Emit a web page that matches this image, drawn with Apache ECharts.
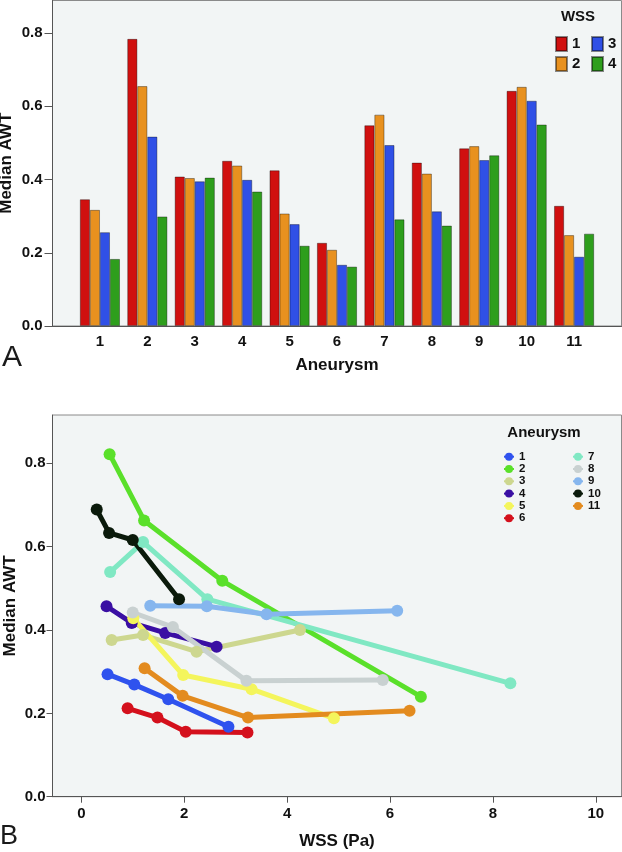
<!DOCTYPE html>
<html><head><meta charset="utf-8">
<script src="https://cdn.jsdelivr.net/npm/echarts@6/dist/echarts.min.js"></script>
<style>html,body{margin:0;padding:0;background:#fff}#c{width:622px;height:852px}</style>
</head><body><div id="c"></div>
<script>
// ---- Panel A data ----
const aneurysmCats = ['1','2','3','4','5','6','7','8','9','10','11'];
const wss1 = [0.346,0.784,0.408,0.451,0.425,0.227,0.548,0.446,0.485,0.642,0.328];
const wss2 = [0.317,0.655,0.404,0.438,0.307,0.208,0.577,0.416,0.491,0.653,0.248];
const wss3 = [0.256,0.517,0.395,0.399,0.278,0.167,0.494,0.313,0.453,0.615,0.189];
const wss4 = [0.183,0.299,0.405,0.367,0.219,0.162,0.291,0.274,0.466,0.550,0.252];
const awtTicks = [0,0.2,0.4,0.6,0.8];
// ---- Panel B data: [WSS (Pa), median AWT] ----
const an1  = [[0.51,0.294],[1.03,0.269],[1.69,0.234],[2.86,0.168]];
const an2  = [[0.55,0.822],[1.22,0.663],[2.74,0.518],[6.60,0.240]];
const an3  = [[0.59,0.376],[1.20,0.388],[2.24,0.348],[4.25,0.400]];
const an4  = [[0.49,0.457],[0.98,0.417],[1.63,0.393],[2.63,0.360]];
const an5  = [[1.01,0.428],[1.98,0.292],[3.31,0.258],[4.91,0.188]];
const an6  = [[0.90,0.212],[1.48,0.190],[2.03,0.156],[3.23,0.154]];
const an7  = [[0.56,0.539],[1.20,0.611],[2.45,0.474],[8.34,0.272]];
const an8  = [[1.00,0.442],[1.78,0.407],[3.21,0.278],[5.86,0.280]];
const an9  = [[1.34,0.458],[2.44,0.457],[3.60,0.438],[6.14,0.446]];
const an10 = [[0.30,0.689],[0.54,0.633],[1.00,0.616],[1.90,0.474]];
const an11 = [[1.23,0.308],[1.97,0.242],[3.24,0.190],[6.38,0.206]];
const wssTicks = [0,2,4,6,8,10];

const FONT = 'Liberation Sans, Arial, sans-serif';
const axisCol = '#555';
const barCats = [''].concat(aneurysmCats, ['']);
const pad = arr => ['-'].concat(arr, ['-']);

const barColors = ['#d0100f','#e8911f','#3050e6','#2e9e1c'];
const barSets = [wss1, wss2, wss3, wss4];
const lineSets = [an1,an2,an3,an4,an5,an6,an7,an8,an9,an10,an11];
const lineColors = ['#2f52ee','#5ae02a','#cdd78f','#3a0fa3','#f4f55c','#d4101c','#80e8c3','#c9d1d1','#86b6ee','#0b1a0b','#e38b1f'];

const series = [];
barSets.forEach((d,i)=>{
  series.push({
    type:'bar', name:'WSS '+(i+1), xAxisIndex:0, yAxisIndex:0,
    data: pad(d), barWidth:10, barGap:'0%',
    itemStyle:{color:barColors[i], borderColor:'rgba(0,0,0,0.45)', borderWidth:0.8},
    emphasis:{disabled:true}
  });
});
lineSets.forEach((d,i)=>{
  series.push({
    type:'line', name:'An '+(i+1), xAxisIndex:1, yAxisIndex:1,
    data:d, symbol:'circle', symbolSize:12, showSymbol:true,
    lineStyle:{width:5, color:lineColors[i]},
    itemStyle:{color:lineColors[i]},
    emphasis:{disabled:true}
  });
});

const labelStyle = {fontFamily:FONT, fontWeight:'bold', fontSize:15, color:'#111'};
const nameStyle = {fontFamily:FONT, fontWeight:'bold', fontSize:17, color:'#111'};
const strip = n => n.replace(/^(WSS|An) /,'');

const chart = echarts.init(document.getElementById('c'), null, {renderer:'canvas'});
chart.setOption({
  animation:false,
  grid:[
    {left:52.5, right:0.5, top:0.5, height:325.5, show:true, backgroundColor:'#f2f5f5', borderColor:'#8a8a8a', borderWidth:1, containLabel:false, outerBoundsMode:'none'},
    {left:52.5, right:0.5, top:415, bottom:55.3, show:true, backgroundColor:'#f2f5f5', borderColor:'#8a8a8a', borderWidth:1, containLabel:false, outerBoundsMode:'none'}
  ],
  xAxis:[
    {type:'category', gridIndex:0, data:barCats, boundaryGap:false,
     axisLine:{lineStyle:{color:axisCol}}, axisTick:{show:false},
     axisLabel:Object.assign({interval:0, margin:8}, labelStyle),
     splitLine:{show:false}, nameMoveOverlap:false,
     name:'Aneurysm', nameLocation:'middle', nameGap:31, nameTextStyle:nameStyle},
    {type:'value', gridIndex:1, min:-0.56, max:10.5,
     axisLine:{onZero:false, lineStyle:{color:axisCol}},
     axisTick:{show:true, length:6, customValues:wssTicks, lineStyle:{color:axisCol}},
     axisLabel:Object.assign({margin:10, customValues:wssTicks, formatter:v=>String(v)}, labelStyle),
     splitLine:{show:false}, nameMoveOverlap:false,
     name:'WSS (Pa)', nameLocation:'middle', nameGap:36, nameTextStyle:nameStyle}
  ],
  yAxis:[
    {type:'value', gridIndex:0, min:0, max:0.889,
     axisLine:{show:true, onZero:false, lineStyle:{color:axisCol}},
     axisTick:{show:true, length:8, customValues:awtTicks, lineStyle:{color:axisCol}},
     axisLabel:Object.assign({margin:10, customValues:awtTicks, formatter:v=>v.toFixed(1)}, labelStyle),
     splitLine:{show:false}, nameMoveOverlap:false,
     name:'Median AWT', nameLocation:'middle', nameGap:38, nameTextStyle:nameStyle},
    {type:'value', gridIndex:1, min:0, max:0.916,
     axisLine:{show:true, onZero:false, lineStyle:{color:axisCol}},
     axisTick:{show:true, length:6, customValues:awtTicks, lineStyle:{color:axisCol}},
     axisLabel:Object.assign({margin:7, customValues:awtTicks, formatter:v=>v.toFixed(1)}, labelStyle),
     splitLine:{show:false}, nameMoveOverlap:false,
     name:'Median AWT', nameLocation:'middle', nameGap:34, nameTextStyle:nameStyle}
  ],
  legend:[
    {data:['WSS 1','WSS 2'], orient:'vertical', left:550, top:31, itemWidth:11, itemHeight:14, itemGap:4, icon:'rect', formatter:strip, selectedMode:false,
     textStyle:{fontFamily:FONT, fontWeight:'bold', fontSize:15, color:'#111'}},
    {data:['WSS 3','WSS 4'], orient:'vertical', left:586, top:31, itemWidth:11, itemHeight:14, itemGap:4, icon:'rect', formatter:strip, selectedMode:false,
     textStyle:{fontFamily:FONT, fontWeight:'bold', fontSize:15, color:'#111'}},
    {data:['An 1','An 2','An 3','An 4','An 5','An 6'], orient:'vertical', left:498, top:445.7, itemWidth:10, itemHeight:10, itemGap:0.3, formatter:strip, selectedMode:false,
     textStyle:{fontFamily:FONT, fontWeight:'bold', fontSize:11.5, lineHeight:12, color:'#111'}},
    {data:['An 7','An 8','An 9','An 10','An 11'], orient:'vertical', left:567, top:445.7, itemWidth:10, itemHeight:10, itemGap:0.3, formatter:strip, selectedMode:false,
     textStyle:{fontFamily:FONT, fontWeight:'bold', fontSize:11.5, lineHeight:12, color:'#111'}}
  ],
  graphic:[
    {type:'text', left:2, top:343, style:{text:'A', font:'30px '+FONT, fill:'#1a1a1a'}},
    {type:'text', left:0, top:823, style:{text:'B', font:'27px '+FONT, fill:'#1a1a1a'}},
    {type:'text', x:578, y:17, style:{text:'WSS', font:'bold 15px '+FONT, fill:'#111', align:'center', verticalAlign:'middle'}},
    {type:'text', x:544, y:433, style:{text:'Aneurysm', font:'bold 15px '+FONT, fill:'#111', align:'center', verticalAlign:'middle'}}
  ],
  series:series
});
</script>
</body></html>
